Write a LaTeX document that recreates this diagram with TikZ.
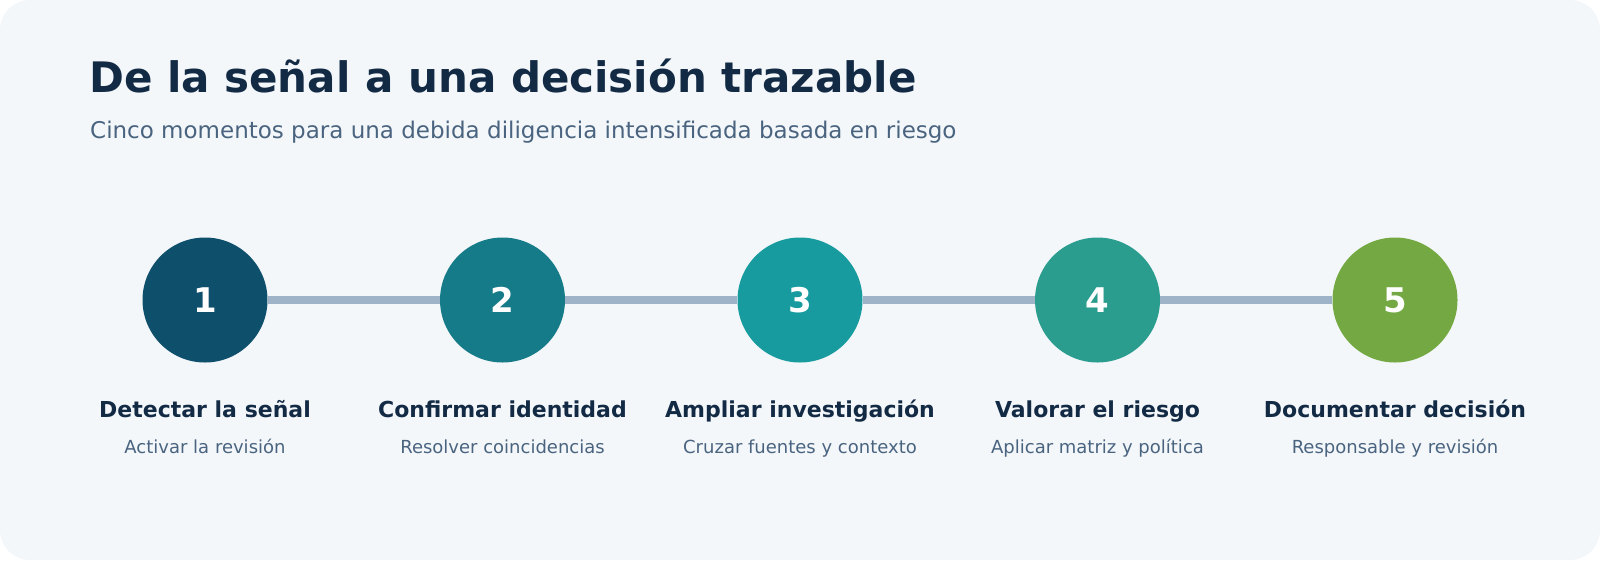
\documentclass[tikz,border=0pt]{standalone}
\usepackage{fontspec}
\setmainfont{DejaVu Sans}
\usepackage{tikz}

\definecolor{panelbg}{HTML}{F3F7FA}
\definecolor{inkdark}{HTML}{132A45}
\definecolor{inksoft}{HTML}{4A6480}
\definecolor{trackcol}{HTML}{9FB3C8}
\definecolor{stepA}{HTML}{0E4F6C}
\definecolor{stepB}{HTML}{167B88}
\definecolor{stepC}{HTML}{179B9E}
\definecolor{stepD}{HTML}{2A9D8F}
\definecolor{stepE}{HTML}{74A843}

\begin{document}
\begin{tikzpicture}[x=1pt,y=-1pt,
    track/.style={line width=8pt,color=trackcol},
    dot/.style={circle,minimum size=125pt,inner sep=0pt,text=white,font=\fontsize{34}{40}\selectfont\bfseries},
    steptitle/.style={anchor=base,inner sep=0pt,text=inkdark,font=\fontsize{22}{26}\selectfont\bfseries},
    stepnote/.style={anchor=base,inner sep=0pt,text=inksoft,font=\fontsize{18}{22}\selectfont}]
    \useasboundingbox (0,0) rectangle (1600,560);
    \fill [white] (0,0) rectangle (1600,560);
    \fill [panelbg,rounded corners=30pt] (0,0) rectangle (1600,560);

    \node [anchor=base west,inner sep=0pt,text=inkdark,font=\fontsize{42}{50}\selectfont\bfseries] (title) at (89,92.3) {De la señal a una decisión trazable};
    \node [anchor=base west,inner sep=0pt,text=inksoft,font=\fontsize{23}{28}\selectfont] (subtitle) at (90,138.3) {Cinco momentos para una debida diligencia intensificada basada en riesgo};

    \def\ry{300};
    \node [dot,fill=stepA] (s1) at (205,\ry) {1};
    \node [dot,fill=stepB] (s2) at (502.5,\ry) {2};
    \node [dot,fill=stepC] (s3) at (800,\ry) {3};
    \node [dot,fill=stepD] (s4) at (1097.5,\ry) {4};
    \node [dot,fill=stepE] (s5) at (1395,\ry) {5};

    \draw [track] (s1) -- (s2);
    \draw [track] (s2) -- (s3);
    \draw [track] (s3) -- (s4);
    \draw [track] (s4) -- (s5);

    \def\ty{417.3};
    \def\ny{453.3};
    \node [steptitle] (t1) at (205,\ty) {Detectar la señal};
    \node [stepnote] (n1) at (205,\ny) {Activar la revisión};
    \node [steptitle] (t2) at (502.5,\ty) {Confirmar identidad};
    \node [stepnote] (n2) at (502.5,\ny) {Resolver coincidencias};
    \node [steptitle] (t3) at (800,\ty) {Ampliar investigación};
    \node [stepnote] (n3) at (800,\ny) {Cruzar fuentes y contexto};
    \node [steptitle] (t4) at (1097.5,\ty) {Valorar el riesgo};
    \node [stepnote] (n4) at (1097.5,\ny) {Aplicar matriz y política};
    \node [steptitle] (t5) at (1395,\ty) {Documentar decisión};
    \node [stepnote] (n5) at (1395,\ny) {Responsable y revisión};
\end{tikzpicture}
\end{document}
